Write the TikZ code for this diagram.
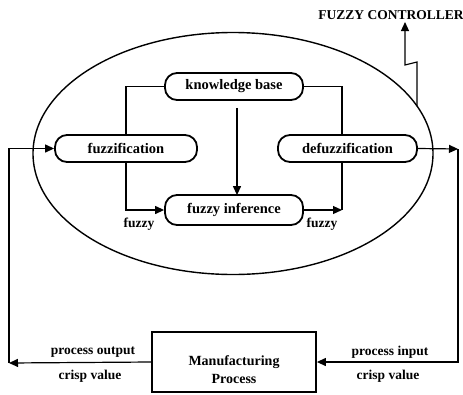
\documentclass[tikz,border=0pt]{standalone}
\usepackage{fontspec}
\setmainfont{Liberation Serif}
\usetikzlibrary{arrows.meta,shapes.geometric}
\tikzset{
  every node/.style={font=\bfseries\fontsize{13.5}{15}\selectfont},
  rbox/.style={draw, line width=1.8pt, rounded corners=12pt, minimum height=27pt, inner sep=0pt, font=\bfseries\fontsize{14.5}{16}\selectfont},
  pbox/.style={draw, line width=1.8pt, minimum width=164pt, minimum height=60pt, inner sep=0pt},
  conn/.style={line width=1.2pt},
  arr/.style={conn, -{Triangle[length=9pt,width=8pt]}},
  lbl/.style={inner sep=0pt}
}
\begin{document}
\begin{tikzpicture}[x=1pt,y=-1pt]
\useasboundingbox (0,0) rectangle (463,394);
% ellipse
\node[draw, ellipse, line width=1.4pt, minimum width=400pt, minimum height=242pt, inner sep=0pt] (el) at (233,153.5) {};
% nodes
\node[rbox, minimum width=138pt] (kb) at (234,86.5) {knowledge base};
\node[rbox, minimum width=142pt] (fz) at (126,148.5) {fuzzification};
\node[rbox, minimum width=139pt] (dz) at (347.5,148.5) {defuzzification};
\node[rbox, minimum width=138pt, minimum height=30pt] (fi) at (234,210) {fuzzy inference};
\node[pbox] (mp) at (234,362) {};
\node[lbl, align=center, font=\bfseries\fontsize{14}{18}\selectfont] (mpt) at (234,370) {Manufacturing\\Process};
% coordinates
\coordinate (L) at (9,363);
\coordinate (R) at (458,149);
\coordinate (dzs) at (342,162);
\coordinate (dzn) at (342,135);
\coordinate (fic) at (342,210);
\coordinate (z0) at (417,106);
\coordinate (z1) at (417,62);
\coordinate (z2) at (405,65);
\coordinate (z3) at (405,22);
% connectors
\draw[conn] (kb.west) -| (fz.north);
\draw[conn] (kb.east) -| (dzn);
\draw[arr] ([xshift=3pt,yshift=-7pt]kb.south) -- ([xshift=3pt,yshift=-1pt]fi.north);
\draw[arr] (fz.south) |- (fi.west);
\draw[arr] (fi.east) -- (fic);
\draw[conn] (fic) -- (dzs);
\draw[arr] (mp.west) -- (L);
\draw[arr] (L) |- (fz.west);
\draw[arr] (dz.east) -- (R);
\draw[arr] (R) |- (mp.east);
\draw[arr] (z0) -- (z1) -- (z2) -- (z3);
% labels
\node[lbl] (fc) at (391,15) {FUZZY CONTROLLER};
\node[lbl] (f1) at (139,224) {fuzzy};
\node[lbl] (f2) at (322,224) {fuzzy};
\node[lbl] (po) at (93,352) {process output};
\node[lbl] (c1) at (90,376) {crisp value};
\node[lbl] (pi) at (390,352) {process input};
\node[lbl] (c2) at (388,376) {crisp value};
\end{tikzpicture}
\end{document}
